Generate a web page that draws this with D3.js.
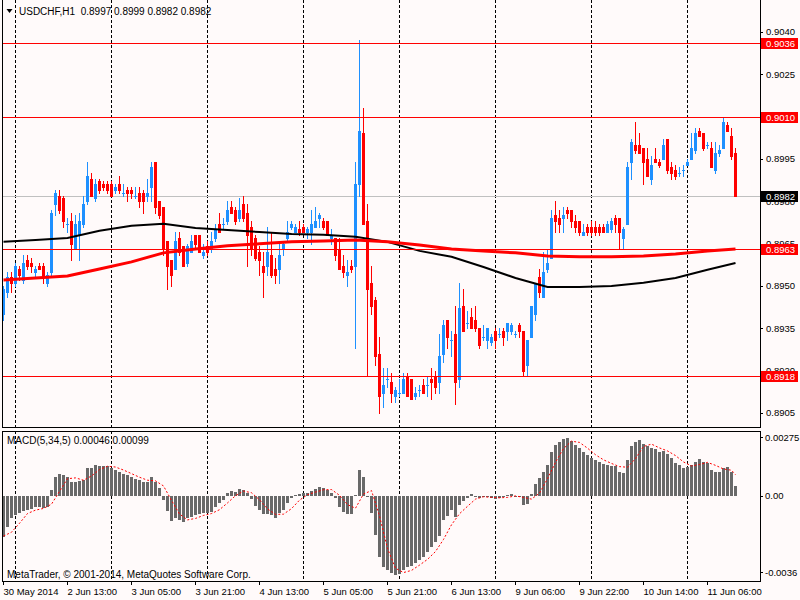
<!DOCTYPE html>
<html>
<head>
<meta charset="utf-8">
<script src="https://cdn.jsdelivr.net/npm/d3@7"></script>
<style>
  html, body { margin: 0; padding: 0; background: #fffafa; }
  svg { display: block; }
</style>
</head>
<body>
<script>
// USDCHF H1, 30 May 2014 21:00 .. 11 Jun 2014 13:00 (one value per hourly bar)
var opens = [
  0.8940,0.8948,0.8953,0.8951,0.8956,0.8952,0.8959,0.8958,0.8955,0.8957,
  0.8957,0.8951,0.8955,0.8979,0.8982,0.8981,0.8972,0.8973,0.8963,0.8968,
  0.8972,0.8980,0.8988,0.8981,0.8987,0.8986,0.8986,0.8986,0.8984,0.8986,
  0.8983,0.8984,0.8984,0.8982,0.8983,0.8983,0.8982,0.8985,0.8994,0.8980,
  0.8978,0.8966,0.8959,0.8956,0.8967,0.8964,0.8958,0.8962,0.8968,0.8968,
  0.8961,0.8964,0.8963,0.8967,0.8972,0.8972,0.8973,0.8978,0.8977,0.8974,
  0.8979,0.8976,0.8971,0.8967,0.8962,0.8957,0.8957,0.8961,0.8956,0.8956,
  0.8963,0.8967,0.8971,0.8969,0.8970,0.8971,0.8969,0.8969,0.8971,0.8974,
  0.8973,0.8973,0.8967,0.8967,0.8963,0.8957,0.8954,0.8957,0.8957,0.8986,
  0.9004,0.8973,0.8951,0.8945,0.8926,0.8912,0.8917,0.8916,0.8911,0.8912,
  0.8912,0.8918,0.8917,0.8911,0.8913,0.8915,0.8915,0.8917,0.8918,0.8916,
  0.8926,0.8938,0.8931,0.8933,0.8917,0.8943,0.8937,0.8939,0.8938,0.8935,
  0.8932,0.8931,0.8930,0.8934,0.8933,0.8934,0.8934,0.8934,0.8933,0.8936,
  0.8934,0.8922,0.8932,0.8940,0.8953,0.8946,0.8956,0.8960,0.8975,0.8974,
  0.8974,0.8977,0.8977,0.8973,0.8973,0.8968,0.8971,0.8971,0.8971,0.8971,
  0.8971,0.8969,0.8970,0.8974,0.8974,0.8967,0.8972,0.8994,0.9000,0.9000,
  0.8999,0.8995,0.8988,0.8995,0.8994,0.8995,0.9002,0.8992,0.8991,0.8990,
  0.8991,0.8993,0.8995,0.8998,0.9005,0.9004,0.9000,0.8999,0.8991,0.8997,
  0.8999,0.9007,0.9003,0.8997
];
var highs = [
  0.8950,0.8955,0.8955,0.8958,0.8957,0.8961,0.8961,0.8960,0.8957,0.8958,
  0.8958,0.8955,0.8977,0.8984,0.8984,0.8982,0.8974,0.8976,0.8975,0.8976,
  0.8982,0.8994,0.8990,0.8988,0.8988,0.8987,0.8987,0.8987,0.8986,0.8989,
  0.8986,0.8985,0.8985,0.8985,0.8985,0.8984,0.8988,0.8994,0.8994,0.8980,
  0.8978,0.8966,0.8959,0.8969,0.8969,0.8964,0.8965,0.8968,0.8968,0.8968,
  0.8965,0.8966,0.8969,0.8972,0.8976,0.8974,0.8980,0.8980,0.8978,0.8981,
  0.8982,0.8979,0.8973,0.8968,0.8964,0.8962,0.8971,0.8969,0.8960,0.8965,
  0.8966,0.8973,0.8973,0.8972,0.8973,0.8972,0.8971,0.8977,0.8978,0.8976,
  0.8974,0.8973,0.8970,0.8967,0.8967,0.8961,0.8959,0.8959,0.8994,0.9037,
  0.9013,0.8979,0.8957,0.8946,0.8932,0.8921,0.8921,0.8919,0.8914,0.8917,
  0.8919,0.8919,0.8917,0.8914,0.8915,0.8917,0.8918,0.8921,0.8920,0.8933,
  0.8938,0.8938,0.8934,0.8943,0.8951,0.8949,0.8941,0.8942,0.8943,0.8935,
  0.8936,0.8935,0.8933,0.8935,0.8935,0.8935,0.8937,0.8937,0.8934,0.8937,
  0.8934,0.8931,0.8943,0.8951,0.8956,0.8962,0.8963,0.8977,0.8980,0.8977,
  0.8978,0.8978,0.8977,0.8975,0.8973,0.8972,0.8972,0.8973,0.8973,0.8972,
  0.8972,0.8973,0.8974,0.8975,0.8974,0.8971,0.8994,0.9002,0.9008,0.9004,
  0.8999,0.8999,0.8996,0.8999,0.8995,0.9002,0.9002,0.8994,0.8993,0.8992,
  0.8993,0.8995,0.9004,0.9006,0.9006,0.9004,0.9001,0.9001,0.9001,0.9000,
  0.9010,0.9008,0.9006,0.8999
];
var lows = [
  0.8938,0.8946,0.8948,0.8950,0.8952,0.8951,0.8956,0.8955,0.8953,0.8956,
  0.8951,0.8950,0.8954,0.8975,0.8976,0.8971,0.8969,0.8959,0.8963,0.8959,
  0.8971,0.8979,0.8982,0.8980,0.8983,0.8984,0.8983,0.8982,0.8983,0.8983,
  0.8982,0.8980,0.8981,0.8981,0.8978,0.8976,0.8980,0.8980,0.8976,0.8974,
  0.8961,0.8949,0.8950,0.8956,0.8961,0.8957,0.8957,0.8962,0.8963,0.8962,
  0.8960,0.8961,0.8962,0.8966,0.8969,0.8970,0.8972,0.8976,0.8972,0.8973,
  0.8973,0.8957,0.8961,0.8959,0.8954,0.8946,0.8954,0.8953,0.8951,0.8951,
  0.8961,0.8966,0.8970,0.8969,0.8968,0.8969,0.8967,0.8965,0.8971,0.8971,
  0.8970,0.8968,0.8965,0.8959,0.8956,0.8953,0.8950,0.8955,0.8928,0.8982,
  0.8972,0.8918,0.8940,0.8922,0.8905,0.8907,0.8914,0.8909,0.8909,0.8911,
  0.8912,0.8911,0.8910,0.8910,0.8911,0.8912,0.8911,0.8910,0.8912,0.8912,
  0.8923,0.8928,0.8925,0.8908,0.8914,0.8934,0.8935,0.8935,0.8934,0.8928,
  0.8931,0.8928,0.8929,0.8928,0.8932,0.8929,0.8931,0.8933,0.8932,0.8932,
  0.8918,0.8918,0.8932,0.8938,0.8946,0.8946,0.8955,0.8960,0.8969,0.8969,
  0.8969,0.8974,0.8971,0.8969,0.8968,0.8968,0.8968,0.8968,0.8968,0.8968,
  0.8969,0.8969,0.8969,0.8969,0.8963,0.8963,0.8972,0.8988,0.8997,0.8997,
  0.8986,0.8989,0.8986,0.8994,0.8992,0.8995,0.8990,0.8988,0.8988,0.8989,
  0.8989,0.8993,0.8995,0.8997,0.9003,0.8998,0.8999,0.8992,0.8990,0.8996,
  0.8999,0.9005,0.8995,0.8982
];
var closes = [
  0.8949,0.8953,0.8951,0.8957,0.8954,0.8958,0.8957,0.8957,0.8956,0.8956,
  0.8953,0.8954,0.8976,0.8983,0.8977,0.8973,0.8972,0.8965,0.8972,0.8973,
  0.8979,0.8989,0.8982,0.8986,0.8984,0.8985,0.8984,0.8982,0.8985,0.8984,
  0.8983,0.8983,0.8983,0.8982,0.8980,0.8980,0.8983,0.8992,0.8978,0.8975,
  0.8963,0.8957,0.8954,0.8966,0.8962,0.8957,0.8964,0.8966,0.8965,0.8962,
  0.8962,0.8962,0.8966,0.8970,0.8969,0.8972,0.8977,0.8976,0.8973,0.8977,
  0.8974,0.8968,0.8963,0.8960,0.8959,0.8955,0.8962,0.8954,0.8954,0.8961,
  0.8965,0.8969,0.8972,0.8971,0.8969,0.8969,0.8970,0.8972,0.8973,0.8975,
  0.8971,0.8968,0.8968,0.8961,0.8956,0.8955,0.8955,0.8956,0.8986,0.9005,
  0.8972,0.8949,0.8943,0.8925,0.8911,0.8915,0.8917,0.8912,0.8913,0.8912,
  0.8917,0.8911,0.8910,0.8912,0.8913,0.8912,0.8915,0.8916,0.8914,0.8925,
  0.8936,0.8932,0.8931,0.8916,0.8942,0.8934,0.8937,0.8935,0.8935,0.8929,
  0.8932,0.8935,0.8932,0.8931,0.8933,0.8932,0.8937,0.8936,0.8933,0.8934,
  0.8920,0.8931,0.8943,0.8951,0.8948,0.8955,0.8958,0.8974,0.8973,0.8972,
  0.8975,0.8976,0.8973,0.8971,0.8969,0.8969,0.8969,0.8969,0.8969,0.8969,
  0.8969,0.8972,0.8973,0.8972,0.8969,0.8970,0.8992,0.9001,0.8998,0.8997,
  0.8994,0.8989,0.8993,0.8994,0.8993,0.9000,0.8991,0.8990,0.8989,0.8990,
  0.8991,0.8994,0.8999,0.9004,0.9003,0.8999,0.9000,0.8992,0.8997,0.8998,
  0.9008,0.9005,0.8996,0.8982
];

// moving averages, read every 8th bar
var maBars = [0, 8, 16, 24, 32, 40, 48, 56, 64, 72, 80, 88, 96, 104, 112, 120, 128, 136, 144, 152, 160, 168, 176, 183];
var maBlack = [
  0.89656, 0.89663, 0.89670, 0.89695, 0.89713, 0.89720, 0.89705, 0.89698, 0.89691, 0.89684, 0.89681, 0.89674,
  0.89656, 0.89624, 0.89603, 0.89567, 0.89528, 0.89496, 0.89496, 0.89500, 0.89511, 0.89528, 0.89557, 0.89581
];
var maRed = [
  0.89521, 0.89528, 0.89535, 0.89560, 0.89585, 0.89617, 0.89631, 0.89642, 0.89649, 0.89656, 0.89659, 0.89663,
  0.89656, 0.89645, 0.89631, 0.89624, 0.89617, 0.89606, 0.89603, 0.89603, 0.89606, 0.89613, 0.89624, 0.89631
];

// MACD(5,34,5) main line, one value per bar
var macdMain = [
  -0.00193,-0.00146,-0.00107,-0.00091,-0.00083,-0.00072,-0.00068,-0.00061,-0.00055,-0.00055,
  -0.00060,-0.00055,0.00027,0.00086,0.00102,0.00096,0.00089,0.00066,0.00066,0.00069,
  0.00074,0.00129,0.00129,0.00144,0.00140,0.00140,0.00140,0.00129,0.00121,0.00113,
  0.00102,0.00097,0.00086,0.00078,0.00074,0.00063,0.00063,0.00086,0.00066,0.00035,
  -0.00020,-0.00071,-0.00118,-0.00107,-0.00115,-0.00122,-0.00107,-0.00099,-0.00091,-0.00086,
  -0.00083,-0.00083,-0.00075,-0.00052,-0.00036,-0.00020,0.00011,0.00024,0.00019,0.00031,
  0.00027,0.00011,-0.00017,-0.00049,-0.00068,-0.00088,-0.00088,-0.00091,-0.00107,-0.00083,
  -0.00068,-0.00036,-0.00013,0.00003,0.00008,0.00011,0.00014,0.00024,0.00030,0.00039,
  0.00035,0.00027,0.00014,-0.00013,-0.00052,-0.00075,-0.00086,-0.00086,0.00003,0.00121,
  0.00086,-0.00005,-0.00083,-0.00185,-0.00287,-0.00334,-0.00350,-0.00366,-0.00374,-0.00369,
  -0.00350,-0.00334,-0.00331,-0.00316,-0.00303,-0.00287,-0.00264,-0.00243,-0.00217,-0.00190,
  -0.00115,-0.00096,-0.00068,-0.00102,-0.00044,-0.00024,-0.00013,0.00006,-0.00005,-0.00009,
  -0.00005,-0.00008,-0.00013,-0.00017,-0.00009,-0.00005,0.00003,0.00006,-0.00002,-0.00002,
  -0.00044,-0.00039,0.00008,0.00055,0.00082,0.00113,0.00144,0.00207,0.00239,0.00254,
  0.00265,0.00270,0.00259,0.00239,0.00223,0.00207,0.00192,0.00176,0.00168,0.00160,
  0.00149,0.00144,0.00140,0.00140,0.00113,0.00108,0.00168,0.00234,0.00254,0.00262,
  0.00243,0.00235,0.00223,0.00218,0.00207,0.00212,0.00196,0.00176,0.00152,0.00144,
  0.00129,0.00133,0.00144,0.00157,0.00171,0.00157,0.00155,0.00121,0.00113,0.00113,
  0.00129,0.00133,0.00110,0.00046
];
// signal line, read every 2nd bar plus the last one
var signalBars = d3.range(0, 184, 2).concat([183]);
var macdSignal = [
  -0.00190,-0.00172,-0.00130,-0.00084,-0.00068,-0.00060,-0.00040,0.00020,0.00080,0.00084,
  0.00073,0.00093,0.00123,0.00139,0.00135,0.00121,0.00104,0.00087,0.00073,0.00070,
  0.00046,-0.00022,-0.00086,-0.00114,-0.00107,-0.00093,-0.00084,-0.00066,-0.00034,0.00000,
  0.00022,0.00014,-0.00019,-0.00062,-0.00088,-0.00087,-0.00061,-0.00021,0.00005,0.00017,
  0.00028,0.00029,0.00002,-0.00042,-0.00059,0.00008,0.00024,-0.00095,-0.00248,-0.00342,
  -0.00362,-0.00352,-0.00327,-0.00300,-0.00263,-0.00206,-0.00137,-0.00085,-0.00050,-0.00016,
  -0.00005,-0.00008,-0.00010,-0.00008,-0.00001,-0.00008,-0.00016,0.00012,0.00080,0.00157,
  0.00222,0.00257,0.00251,0.00224,0.00193,0.00169,0.00152,0.00137,0.00134,0.00175,
  0.00232,0.00243,0.00225,0.00211,0.00189,0.00159,0.00140,0.00147,0.00157,0.00143,
  0.00126,0.00120,0.00099
];

var priceTicks = [0.9040, 0.9025, 0.9010, 0.8995, 0.8980, 0.8965, 0.8950, 0.8935, 0.8920, 0.8905];
var levelLines = [0.9036, 0.9010, 0.8963, 0.8918];
var bidPrice = 0.8982;
var macdTicks = [0.00275, 0, -0.0036];
var macdTickLabels = ['0.00275', '0.00', '-0.0036'];
var timeTickBars = d3.range(0, 184, 16);
var timeLabels = ['30 May 2014', '2 Jun 13:00', '3 Jun 05:00', '3 Jun 21:00', '4 Jun 13:00', '5 Jun 05:00',
                  '5 Jun 21:00', '6 Jun 13:00', '9 Jun 06:00', '9 Jun 22:00', '10 Jun 14:00', '11 Jun 06:00'];
var midnightBars = [3, 27, 51, 75, 99, 123, 147, 171];

var FONT = 'Tahoma, "Liberation Sans", Arial, sans-serif';
var BULL = '#1e90ff', BEAR = '#ff0000';

var w = 800, h = 600;
var left = 2, right = 760,
    mainTop = 0, mainBottom = 427,
    macdTop = 431, macdBottom = 581;

var svg = d3.select('body').append('svg')
  .attr('width', w)
  .attr('height', h);

svg.append('rect')
  .attr('width', w)
  .attr('height', h)
  .attr('fill', '#fffafa');

var x = d3.scaleLinear().domain([0, 183]).range([3, 735]);
var y = d3.scaleLinear().domain([0.8900, 0.90513]).range([mainBottom, mainTop]);
var ym = d3.scaleLinear().domain([-0.004018, 0.003048]).range([macdBottom, macdTop]);

function px(v) { return Math.round(v); }

// vertical dashed grid at day starts
var grid = svg.append('g')
  .attr('stroke', '#000')
  .attr('stroke-dasharray', '3,2')
  .attr('shape-rendering', 'crispEdges');
[[mainTop, mainBottom], [macdTop, macdBottom]].forEach(function(r) {
  grid.selectAll(null)
    .data(midnightBars)
    .enter()
    .append('line')
      .attr('x1', function(d) { return px(x(d)) + 0.5; })
      .attr('x2', function(d) { return px(x(d)) + 0.5; })
      .attr('y1', r[0])
      .attr('y2', r[1]);
});

// bid line
svg.append('line')
  .attr('x1', left).attr('x2', right)
  .attr('y1', px(y(bidPrice)) + 0.5).attr('y2', px(y(bidPrice)) + 0.5)
  .attr('stroke', '#c0c0c0')
  .attr('shape-rendering', 'crispEdges');

// candles
var bars = d3.range(opens.length).map(function(i) {
  return { i: i, o: opens[i], h: highs[i], l: lows[i], c: closes[i] };
});
function candleColor(d) { return d.c >= d.o ? BULL : BEAR; }

var candles = svg.append('g').attr('shape-rendering', 'crispEdges');
candles.selectAll('.wick')
  .data(bars)
  .enter()
  .append('rect')
    .attr('x', function(d) { return px(x(d.i)); })
    .attr('y', function(d) { return px(y(d.h)); })
    .attr('width', 1)
    .attr('height', function(d) { return px(y(d.l)) - px(y(d.h)) + 1; })
    .attr('fill', candleColor);
candles.selectAll('.body')
  .data(bars)
  .enter()
  .append('rect')
    .attr('x', function(d) { return px(x(d.i)) - 1; })
    .attr('y', function(d) { return px(y(Math.max(d.o, d.c))); })
    .attr('width', 3)
    .attr('height', function(d) { return px(y(Math.min(d.o, d.c))) - px(y(Math.max(d.o, d.c))) + 1; })
    .attr('fill', candleColor);

// moving averages
var maLine = d3.line()
  .x(function(d, i) { return x(maBars[i]) + 0.5; })
  .y(function(d) { return y(d); });
svg.append('path')
  .attr('d', maLine(maBlack))
  .attr('fill', 'none')
  .attr('stroke', '#000')
  .attr('stroke-width', 2);
svg.append('path')
  .attr('d', maLine(maRed))
  .attr('fill', 'none')
  .attr('stroke', '#ff0000')
  .attr('stroke-width', 3);

// horizontal levels
svg.append('g')
  .attr('shape-rendering', 'crispEdges')
  .selectAll('line')
  .data(levelLines)
  .enter()
  .append('line')
    .attr('x1', left).attr('x2', right)
    .attr('y1', function(d) { return px(y(d)) + 0.5; })
    .attr('y2', function(d) { return px(y(d)) + 0.5; })
    .attr('stroke', '#ff0000');

// MACD histogram
svg.append('g')
  .attr('shape-rendering', 'crispEdges')
  .selectAll('rect')
  .data(macdMain)
  .enter()
  .append('rect')
    .attr('x', function(d, i) { return px(x(i)) - 1; })
    .attr('y', function(d) { return Math.min(px(ym(0)), px(ym(d))); })
    .attr('width', 3)
    .attr('height', function(d) { return Math.max(1, Math.abs(px(ym(d)) - px(ym(0)))); })
    .attr('fill', '#696969');

// MACD signal
var sigLine = d3.line()
  .x(function(d, i) { return x(signalBars[i]) + 0.5; })
  .y(function(d) { return ym(d); });
svg.append('path')
  .attr('d', sigLine(macdSignal))
  .attr('fill', 'none')
  .attr('stroke', '#ff0000')
  .attr('stroke-width', 1)
  .attr('stroke-dasharray', '2,2');

// panel frames
var frame = svg.append('g')
  .attr('stroke', '#000')
  .attr('fill', 'none')
  .attr('shape-rendering', 'crispEdges');
frame.append('path')
  .attr('d', 'M' + (left + 0.5) + ',0V' + (mainBottom + 0.5) + 'H' + (right + 0.5) + 'V0');
frame.append('rect')
  .attr('x', left + 0.5).attr('y', macdTop + 0.5)
  .attr('width', right - left).attr('height', macdBottom - macdTop);

// axes
function styleAxis(g) {
  g.select('.domain').remove();
  g.attr('font-family', FONT).attr('font-size', 9.5);
  g.selectAll('line').attr('shape-rendering', 'crispEdges');
}

svg.append('g')
  .attr('transform', 'translate(' + right + ',0)')
  .call(d3.axisRight(y).tickValues(priceTicks).tickFormat(d3.format('.4f')).tickSize(3).tickPadding(3))
  .call(styleAxis);

svg.append('g')
  .attr('transform', 'translate(' + right + ',0)')
  .call(d3.axisRight(ym).tickValues(macdTicks)
    .tickFormat(function(d, i) { return macdTickLabels[i]; }).tickSize(3).tickPadding(2))
  .call(styleAxis);

svg.append('g')
  .attr('transform', 'translate(0,' + macdBottom + ')')
  .call(d3.axisBottom(x).tickValues(timeTickBars)
    .tickFormat(function(d, i) { return timeLabels[i]; }).tickSize(4).tickPadding(3))
  .call(styleAxis)
  .selectAll('text')
    .attr('text-anchor', 'start')
    .attr('x', 0);

// price tags on the scale
var tags = levelLines.map(function(v) { return { v: v, bg: '#ff0000' }; })
  .concat([{ v: bidPrice, bg: '#000' }]);
var tag = svg.append('g').selectAll('g')
  .data(tags)
  .enter()
  .append('g')
    .attr('transform', function(d) { return 'translate(' + (right + 1) + ',' + px(y(d.v)) + ')'; });
tag.append('rect')
  .attr('x', 0).attr('y', -5)
  .attr('width', 37).attr('height', 11)
  .attr('fill', function(d) { return d.bg; })
  .attr('shape-rendering', 'crispEdges');
tag.append('text')
  .attr('x', 5).attr('y', 0.5)
  .attr('dy', '0.35em')
  .attr('fill', '#fff')
  .style('font-family', FONT)
  .style('font-size', '9.5px')
  .text(function(d) { return d3.format('.4f')(d.v); });

// titles
svg.append('path')
  .attr('d', 'M6.5,9L12.5,9L9.5,13Z')
  .attr('fill', '#000');

svg.append('text')
  .attr('x', 19).attr('y', 15)
  .text('USDCHF,H1\u00a0 ' + [opens[183], highs[183], lows[183], closes[183]].map(d3.format('.4f')).join(' '));

svg.append('text')
  .attr('x', 7).attr('y', 444)
  .text('MACD(5,34,5) ' + d3.format('.5f')(macdMain[183]) + ' ' + d3.format('.5f')(macdSignal[macdSignal.length - 1]));

svg.append('text')
  .attr('x', 7).attr('y', 578)
  .text('MetaTrader, \u00a9 2001-2014, MetaQuotes Software Corp.');

svg.selectAll('svg > text')
  .style('font-family', FONT)
  .style('font-size', '10px')
  .attr('fill', '#000');
</script>
</body>
</html>
